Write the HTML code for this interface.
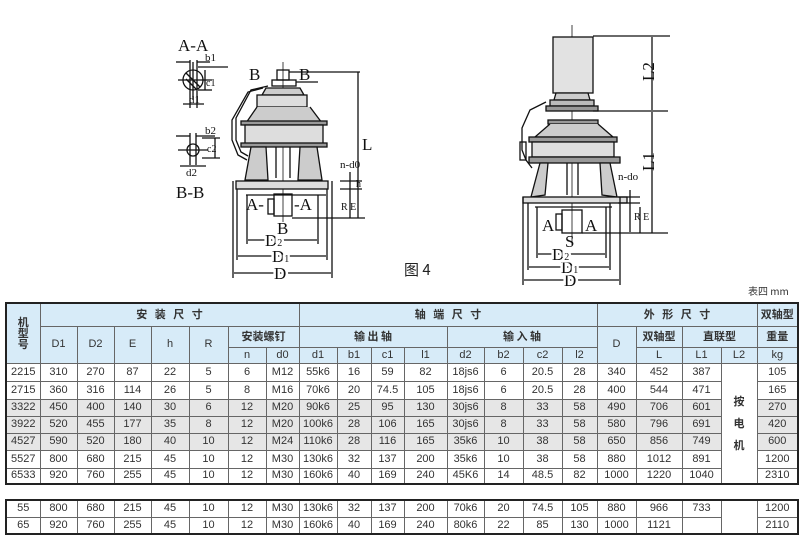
<!DOCTYPE html>
<html><head><meta charset="utf-8"><style>
body{margin:0;width:800px;height:546px;background:#fff;position:relative;overflow:hidden;font-family:"Liberation Sans","Noto Sans CJK SC",sans-serif;}
table{position:absolute;left:5px;border-collapse:collapse;table-layout:fixed;font-size:11px;color:#333;}
td{border:1px solid #666;text-align:center;padding:0;line-height:1;overflow:hidden;white-space:nowrap;}
.h td{background:#d7ebf8;}
.g td{background:#e6e6e6;}
#t1{top:302px;border:2px solid #222;}
#t2{top:499px;border:2px solid #222;}
.cj{font-family:"Noto Sans CJK SC",sans-serif;font-weight:bold;font-size:11px;}
svg{position:absolute;left:0;top:0;}
</style></head><body>
<svg width="800" height="300" viewBox="0 0 800 300" font-family="Liberation Serif,serif" stroke="#111" fill="none" stroke-width="1.3">
<!-- A-A section -->
<text x="178" y="51" font-size="17" fill="#111" stroke="none">A-A</text>
<circle cx="193" cy="80" r="10"/>
<line x1="178" y1="80" x2="212" y2="80"/><line x1="193" y1="62" x2="193" y2="100"/>
<line x1="190" y1="60" x2="190" y2="108"/><line x1="197" y1="60" x2="197" y2="108"/>
<line x1="186" y1="73" x2="200" y2="87"/><line x1="186" y1="79" x2="196" y2="89"/>
<line x1="198" y1="67" x2="228" y2="67"/><line x1="205" y1="70" x2="205" y2="90"/><line x1="198" y1="90" x2="212" y2="90"/>
<line x1="176" y1="62" x2="190" y2="62"/><line x1="197" y1="62" x2="210" y2="62"/>
<line x1="183" y1="104" x2="204" y2="104"/>
<text x="205" y="61" font-size="11" fill="#111" stroke="none">b1</text>
<text x="206" y="86" font-size="10" fill="#111" stroke="none">c1</text>
<text x="189" y="103" font-size="11" fill="#111" stroke="none">d1</text>
<!-- B-B -->
<circle cx="193" cy="150" r="6"/>
<line x1="190" y1="133" x2="190" y2="165"/><line x1="196" y1="133" x2="196" y2="165"/>
<line x1="178" y1="150" x2="208" y2="150"/>
<line x1="176" y1="136" x2="190" y2="136"/><line x1="196" y1="136" x2="215" y2="136"/>
<line x1="202" y1="138" x2="220" y2="138"/><line x1="215" y1="138" x2="215" y2="158"/><line x1="202" y1="158" x2="220" y2="158"/>
<line x1="180" y1="166" x2="206" y2="166"/>
<text x="205" y="134" font-size="11" fill="#111" stroke="none">b2</text>
<text x="207" y="152" font-size="10" fill="#111" stroke="none">c2</text>
<text x="186" y="176" font-size="11" fill="#111" stroke="none">d2</text>
<text x="176" y="198" font-size="17" fill="#111" stroke="none">B-B</text>
<!-- left main -->
<line x1="283" y1="62" x2="283" y2="222" stroke-width="0.8"/>
<text x="249" y="80" font-size="17" fill="#111" stroke="none">B</text>
<text x="299" y="80" font-size="17" fill="#111" stroke="none">B</text>
<rect x="277" y="70" width="12" height="10"/>
<rect x="272" y="80" width="24" height="6"/>
<line x1="289" y1="72" x2="360" y2="72"/>
<line x1="296" y1="82" x2="318" y2="82"/>
<path d="M266 88 L300 88 L304 95 L262 95 Z" fill="#ccc"/>
<rect x="257" y="95" width="50" height="12" fill="#ddd"/>
<path d="M257 107 L246 123 L322 123 L310 107" fill="#ccc"/>
<rect x="241" y="121" width="86" height="4" fill="#999"/>
<rect x="245" y="125" width="78" height="20" fill="#ddd"/>
<rect x="241" y="143" width="86" height="4" fill="#999"/>
<path d="M251 147 L245 180 L268 180 L266 147 Z M300 147 L298 180 L322 180 L317 147 Z" fill="#ccc"/>
<path d="M276 147 L276 178 M290 147 L290 178"/>
<path d="M263 88 L248 92 L232 120 L232 140 L238 155 L247 160"/>
<path d="M268 86 L251 90 L236 118 L236 140 L241 152 L248 156"/>
<rect x="236" y="181" width="92" height="8" fill="#ddd"/>
<line x1="246" y1="195" x2="326" y2="195"/>
<rect x="274" y="194" width="18" height="22"/>
<rect x="268" y="199" width="6" height="15"/>
<line x1="292" y1="218" x2="365" y2="218"/>
<text x="246" y="210" font-size="17" fill="#111" stroke="none">A-</text>
<text x="294" y="210" font-size="17" fill="#111" stroke="none">-A</text>
<text x="277" y="234" font-size="17" fill="#111" stroke="none">B</text>
<line x1="233" y1="181" x2="233" y2="278"/><line x1="332" y1="181" x2="332" y2="278"/>
<line x1="237" y1="189" x2="237" y2="260"/><line x1="327" y1="189" x2="327" y2="260"/>
<line x1="247" y1="195" x2="247" y2="244"/><line x1="318" y1="195" x2="318" y2="244"/>
<line x1="234" y1="273" x2="331" y2="273"/><text x="274" y="279" font-size="17" fill="#111" stroke="#fff" stroke-width="5" paint-order="stroke">D</text>
<line x1="238" y1="256" x2="326" y2="256"/><text x="272" y="262" font-size="17" fill="#111" stroke="#fff" stroke-width="5" paint-order="stroke">D<tspan font-size="10">1</tspan></text>
<line x1="248" y1="240" x2="317" y2="240"/><text x="265" y="246" font-size="17" fill="#111" stroke="#fff" stroke-width="5" paint-order="stroke">D<tspan font-size="10">2</tspan></text>
<line x1="358" y1="72" x2="358" y2="218"/>
<text x="362" y="150" font-size="17" fill="#111" stroke="none">L</text>
<line x1="340" y1="181" x2="362" y2="181"/><line x1="340" y1="189" x2="362" y2="189"/>
<line x1="350" y1="172" x2="350" y2="198"/><line x1="350" y1="198" x2="350" y2="218"/>
<text x="340" y="168" font-size="11" fill="#111" stroke="none">n-d0</text>
<text x="356" y="187" font-size="10" fill="#111" stroke="none">h</text>
<text x="341" y="210" font-size="10" fill="#111" stroke="none">R E</text>
<text x="404" y="275" font-size="15" fill="#222" stroke="none" font-family="Noto Sans CJK SC,sans-serif">图 4</text>
<!-- right drawing -->
<line x1="572" y1="25" x2="572" y2="245" stroke-width="0.8"/>
<rect x="553" y="37" width="40" height="56" fill="#e2e2e2"/>
<line x1="593" y1="36" x2="670" y2="36"/>
<path d="M556 93 L588 93 L590 100 L554 100 Z" fill="#ccc"/>
<rect x="550" y="100" width="44" height="6" fill="#bbb"/>
<rect x="546" y="106" width="52" height="5" fill="#999"/>
<line x1="593" y1="111" x2="668" y2="111"/>
<rect x="548" y="120" width="50" height="4" fill="#999"/>
<path d="M550 124 L535 137 L613 137 L598 124" fill="#ccc"/>
<rect x="529" y="137" width="88" height="5" fill="#999"/>
<rect x="532" y="142" width="82" height="15" fill="#ddd"/>
<rect x="529" y="157" width="91" height="6" fill="#999"/>
<path d="M540 163 L531 197 L545 195 L548 163 Z M600 163 L602 195 L617 197 L610 163 Z" fill="#ccc"/>
<path d="M567 163 L567 195 M578 163 L578 195"/>
<path d="M546 102 L530 110 L522 128 L522 150 L526 160 L532 168"/>
<rect x="520" y="142" width="6" height="18"/>
<rect x="523" y="197" width="104" height="6" fill="#ddd"/>
<line x1="535" y1="207" x2="612" y2="207"/>
<rect x="562" y="210" width="20" height="23"/>
<rect x="556" y="214" width="6" height="16"/>
<line x1="582" y1="233" x2="668" y2="233"/>
<text x="542" y="231" font-size="17" fill="#111" stroke="none">A</text>
<text x="585" y="231" font-size="17" fill="#111" stroke="none">A</text>
<text x="565" y="247" font-size="17" fill="#111" stroke="none">S</text>
<line x1="523" y1="197" x2="523" y2="285"/><line x1="620" y1="197" x2="620" y2="285"/>
<line x1="528" y1="203" x2="528" y2="270"/><line x1="610" y1="203" x2="610" y2="270"/>
<line x1="537" y1="207" x2="537" y2="258"/><line x1="606" y1="207" x2="606" y2="258"/>
<line x1="524" y1="280" x2="619" y2="280"/><text x="564" y="286" font-size="17" fill="#111" stroke="#fff" stroke-width="5" paint-order="stroke">D</text>
<line x1="529" y1="267" x2="609" y2="267"/><text x="561" y="273" font-size="17" fill="#111" stroke="#fff" stroke-width="5" paint-order="stroke">D<tspan font-size="10">1</tspan></text>
<line x1="538" y1="254" x2="605" y2="254"/><text x="552" y="260" font-size="17" fill="#111" stroke="#fff" stroke-width="5" paint-order="stroke">D<tspan font-size="10">2</tspan></text>
<line x1="652" y1="37" x2="652" y2="110"/><line x1="652" y1="112" x2="652" y2="233"/>
<text x="642" y="81" font-size="17" fill="#111" stroke="none" transform="rotate(-90 648 75)">L2</text>
<text x="642" y="171" font-size="17" fill="#111" stroke="none" transform="rotate(-90 648 165)">L1</text>
<line x1="618" y1="197" x2="640" y2="197"/><line x1="618" y1="203" x2="640" y2="203"/>
<line x1="630" y1="190" x2="630" y2="232"/><line x1="640" y1="207" x2="640" y2="233"/>
<text x="618" y="180" font-size="11" fill="#111" stroke="none">n-do</text>
<text x="634" y="220" font-size="10" fill="#111" stroke="none">R E</text>
<text x="748" y="295" font-size="10" fill="#333" stroke="none" font-family="Noto Sans CJK SC,sans-serif">表四 mm</text>
</svg>
<table id="t1">
<colgroup><col style="width:34px"><col style="width:37px"><col style="width:37px"><col style="width:37px"><col style="width:38px"><col style="width:39px"><col style="width:38px"><col style="width:33px"><col style="width:38px"><col style="width:34px"><col style="width:33px"><col style="width:43px"><col style="width:37px"><col style="width:39px"><col style="width:39px"><col style="width:35px"><col style="width:39px"><col style="width:46px"><col style="width:39px"><col style="width:36px"><col style="width:41px"></colgroup>
<tr class="h" style="height:23px"><td rowspan="3" class="cj">机<br>型<br>号</td><td colspan="7" class="cj">安 &nbsp; 装 &nbsp; 尺 &nbsp; 寸</td><td colspan="8" class="cj">轴 &nbsp; 端 &nbsp; 尺 &nbsp; 寸</td><td colspan="4" class="cj">外 &nbsp; 形 &nbsp; 尺 &nbsp; 寸</td><td class="cj">双轴型</td></tr>
<tr class="h" style="height:21px"><td rowspan="2">D1</td><td rowspan="2">D2</td><td rowspan="2">E</td><td rowspan="2">h</td><td rowspan="2">R</td><td colspan="2" class="cj">安装螺钉</td><td colspan="4" class="cj">输 出 轴</td><td colspan="4" class="cj">输 入 轴</td><td rowspan="2">D</td><td class="cj">双轴型</td><td colspan="2" class="cj">直联型</td><td class="cj">重量</td></tr>
<tr class="h" style="height:16px"><td>n</td><td>d0</td><td>d1</td><td>b1</td><td>c1</td><td>l1</td><td>d2</td><td>b2</td><td>c2</td><td>l2</td><td>L</td><td>L1</td><td>L2</td><td>kg</td></tr>
<tr style="height:18px"><td>2215</td><td>310</td><td>270</td><td>87</td><td>22</td><td>5</td><td>6</td><td>M12</td><td>55k6</td><td>16</td><td>59</td><td>82</td><td>18js6</td><td>6</td><td>20.5</td><td>28</td><td>340</td><td>452</td><td>387</td><td rowspan="7" class="cj" style="background:#fff">按<br><br>电<br><br>机</td><td>105</td></tr>
<tr style="height:18px"><td>2715</td><td>360</td><td>316</td><td>114</td><td>26</td><td>5</td><td>8</td><td>M16</td><td>70k6</td><td>20</td><td>74.5</td><td>105</td><td>18js6</td><td>6</td><td>20.5</td><td>28</td><td>400</td><td>544</td><td>471</td><td>165</td></tr>
<tr class="g" style="height:17px"><td>3322</td><td>450</td><td>400</td><td>140</td><td>30</td><td>6</td><td>12</td><td>M20</td><td>90k6</td><td>25</td><td>95</td><td>130</td><td>30js6</td><td>8</td><td>33</td><td>58</td><td>490</td><td>706</td><td>601</td><td>270</td></tr>
<tr class="g" style="height:17px"><td>3922</td><td>520</td><td>455</td><td>177</td><td>35</td><td>8</td><td>12</td><td>M20</td><td>100k6</td><td>28</td><td>106</td><td>165</td><td>30js6</td><td>8</td><td>33</td><td>58</td><td>580</td><td>796</td><td>691</td><td>420</td></tr>
<tr class="g" style="height:17px"><td>4527</td><td>590</td><td>520</td><td>180</td><td>40</td><td>10</td><td>12</td><td>M24</td><td>110k6</td><td>28</td><td>116</td><td>165</td><td>35k6</td><td>10</td><td>38</td><td>58</td><td>650</td><td>856</td><td>749</td><td>600</td></tr>
<tr style="height:18px"><td>5527</td><td>800</td><td>680</td><td>215</td><td>45</td><td>10</td><td>12</td><td>M30</td><td>130k6</td><td>32</td><td>137</td><td>200</td><td>35k6</td><td>10</td><td>38</td><td>58</td><td>880</td><td>1012</td><td>891</td><td>1200</td></tr>
<tr style="height:16px"><td>6533</td><td>920</td><td>760</td><td>255</td><td>45</td><td>10</td><td>12</td><td>M30</td><td>160k6</td><td>40</td><td>169</td><td>240</td><td>45K6</td><td>14</td><td>48.5</td><td>82</td><td>1000</td><td>1220</td><td>1040</td><td>2310</td></tr>
</table>
<table id="t2">
<colgroup><col style="width:34px"><col style="width:37px"><col style="width:37px"><col style="width:37px"><col style="width:38px"><col style="width:39px"><col style="width:38px"><col style="width:33px"><col style="width:38px"><col style="width:34px"><col style="width:33px"><col style="width:43px"><col style="width:37px"><col style="width:39px"><col style="width:39px"><col style="width:35px"><col style="width:39px"><col style="width:46px"><col style="width:39px"><col style="width:36px"><col style="width:41px"></colgroup>
<tr style="height:17px"><td>55</td><td>800</td><td>680</td><td>215</td><td>45</td><td>10</td><td>12</td><td>M30</td><td>130k6</td><td>32</td><td>137</td><td>200</td><td>70k6</td><td>20</td><td>74.5</td><td>105</td><td>880</td><td>966</td><td>733</td><td rowspan="2"></td><td>1200</td></tr>
<tr style="height:17px"><td>65</td><td>920</td><td>760</td><td>255</td><td>45</td><td>10</td><td>12</td><td>M30</td><td>160k6</td><td>40</td><td>169</td><td>240</td><td>80k6</td><td>22</td><td>85</td><td>130</td><td>1000</td><td>1121</td><td></td><td>2110</td></tr>
</table>
</body></html>
